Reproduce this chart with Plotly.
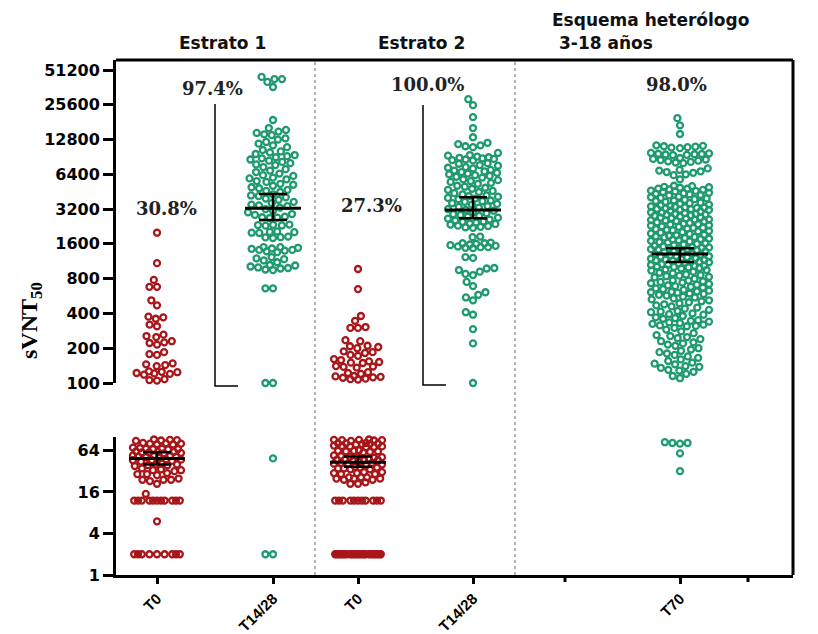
import numpy as np
import plotly.graph_objects as go

# ---------------- data ----------------
categories = ["T0", "T14/28", "T0", "T14/28", "T70"]
blank_ticks = [449, 632]  # tick marks without labels

e1_t0 = [2000, 1090, 780, 680, 680, 520, 470, 370, 360, 375, 310, 320, 255, 262, 250,
         222, 215, 225, 230, 185, 175, 178, 145, 140, 143, 148, 122, 120, 125, 118, 124,
         121, 126, 106, 105, 108,
         90, 88, 92, 89, 91, 80, 79, 81, 82, 78, 80, 68, 67, 69, 70, 66, 68, 67,
         60, 61, 59, 62, 58, 60, 61, 52, 53, 51, 54, 52, 50, 53, 46, 45, 47, 46, 44, 47,
         39, 40, 38, 41, 39, 40, 33, 34, 32, 33, 35, 29, 28, 30, 29, 24, 25, 24, 23, 24,
         21, 15, 12, 12, 12, 12, 12, 12, 12, 12, 12, 12, 12, 6,
         2, 2, 2, 2, 2, 2, 2, 2, 2]

e1_t14 = [44600, 42700, 42700, 40400, 36500, 18900,
          16100, 15500, 15000, 14600, 14200, 14000,
          13100, 12800, 12200, 11800, 11400, 11000,
          10400, 10100, 9900, 9600, 9400, 9200, 9000,
          8800, 8600, 8400, 8200, 8000, 7800, 7700,
          7400, 7100, 6900, 6700, 6500, 6300,
          6200, 6000, 5900, 5800, 5600, 5500, 5300, 5200,
          5100, 4950, 4850, 4700, 4600, 4500, 4300, 4200,
          4150, 4050, 3950, 3850, 3700, 3600, 3500, 3450,
          3400, 3300, 3200, 3100, 3000, 2900, 2850,
          2750, 2700, 2720, 2680,
          2350, 2300, 2330, 2310, 2340,
          2020, 2050, 2000, 2030, 1990,
          1830, 1850, 1800, 1820,
          1500, 1480, 1450, 1420, 1400, 1380, 1360, 1420, 1460, 1500,
          1230, 1200, 1150, 1110, 1180,
          1050, 1020, 1000, 980, 960, 950, 990, 1040,
          660, 660, 100, 100,
          49, 2, 2]

e2_t0 = [970, 650, 380, 345, 300, 300, 305, 230, 235, 210, 205, 200, 208, 185, 188, 182,
         175, 172, 161, 158, 152, 150, 154, 149, 138, 140, 136, 139, 122, 124, 120,
         113, 112, 115, 114, 111, 108, 107, 109,
         90, 91, 89, 92, 90, 88, 91, 80, 81, 79, 82, 80, 78, 81, 73, 72, 74, 73, 71, 75,
         62, 63, 61, 64, 62, 60, 63, 52, 53, 51, 54, 52, 50, 46, 47, 45, 46, 48, 44, 47,
         41, 40, 42, 41, 39, 42, 35, 36, 34, 35, 37, 34, 36, 30, 31, 29, 30, 31, 29,
         25, 26, 24, 25, 26, 24, 25, 26, 21, 22, 21,
         12, 12, 12, 12, 12, 12, 12, 12, 12, 12, 12,
         2, 2, 2, 2, 2, 2, 2, 2, 2, 2, 2, 2, 2, 2, 2, 2, 2, 2, 2, 2, 2, 2, 2]

e2_t14 = [28600, 25400, 20000, 16100, 13400,
          12000, 11700, 11400, 11200, 11000, 9800,
          9400, 9300, 9100, 9000, 8900, 8800, 8700, 8600, 8500, 8450,
          8000, 7900, 7700, 7600, 7400, 7300, 7200, 7000, 6900, 6800, 6700, 6600,
          6500, 6400, 6300, 6200, 6100, 6000, 5800, 5700, 5600, 5500, 5400, 5300, 5100, 5000,
          4900, 4800, 4700, 4600, 4500, 4400, 4300, 4200, 4150, 4100, 4000, 3950, 3900, 3800,
          3750, 3700, 3600, 3550, 3500, 3400, 3350, 3300, 3200, 3150, 3100, 3000,
          2950, 2900, 2850, 2800, 2750, 2700, 2650, 2600, 2550, 2500, 2480, 2450, 2400,
          2380, 2350, 2300, 2280, 2250, 2230, 2200,
          1830, 1850,
          1640, 1620, 1600, 1560, 1520, 1500, 1480, 1470, 1500, 1540, 1580, 1620,
          1210, 1230, 990, 980, 950, 920, 880, 860, 750, 690, 610, 580, 550, 520,
          410, 390, 293, 220, 100]

t70 = [19600, 17000, 14300,
       11400, 11200, 11000, 10800, 11300, 11100, 10900,
       9700, 9600, 9500, 9400, 9800, 9650, 9550, 9450,
       8860, 8700, 8600, 8500, 8400, 8300, 8200, 8100, 8000,
       7200, 7000, 6900, 6800, 6700, 6600, 6400, 6300, 5800,
       5100, 5050, 4980, 4950, 4900, 4820, 4800, 4750, 4700, 4620, 4600, 4550, 4500, 4430,
       4400, 4350, 4300, 4240, 4200, 4100,
       4050, 4000, 3960, 3900, 3850, 3800, 3760, 3700, 3640, 3600, 3550, 3500, 3450, 3400,
       3380, 3350, 3310, 3300, 3280, 3250, 3220, 3200, 3170, 3150,
       3100, 3050, 3000, 2980, 2950, 2910, 2900, 2870, 2850, 2820, 2800, 2760, 2720, 2700,
       2680, 2650, 2610, 2600, 2570, 2550, 2520, 2500, 2460, 2430,
       2400, 2370, 2350, 2320, 2300, 2270, 2250, 2210, 2200, 2170, 2150, 2120, 2100, 2070,
       2050, 2020, 2000, 1970, 1950, 1920, 1900, 1880, 1860, 1840,
       1820, 1800, 1780, 1760, 1740, 1720, 1700, 1680, 1660, 1640, 1620, 1600, 1580, 1560,
       1540, 1520, 1500, 1490, 1480, 1470, 1460, 1450, 1440, 1430,
       1410, 1400, 1380, 1360, 1340, 1320, 1300, 1290, 1280, 1260, 1250, 1240, 1220, 1200,
       1190, 1180, 1170, 1160, 1150, 1140, 1130, 1120, 1110, 1100,
       1080, 1070, 1060, 1050, 1040, 1030, 1020, 1010, 1000, 990, 980, 960, 950, 940,
       920, 900, 890, 870, 860, 850, 840, 830, 820, 800,
       775, 770, 760, 750, 740, 730, 720, 710, 700, 690, 680, 670, 660, 650,
       640, 630, 620, 615, 610, 605,
       595, 590, 580, 570, 560, 550, 540, 530, 520, 510, 500, 490, 480, 470,
       460, 450, 440, 430, 420, 415, 410, 400,
       395, 390, 380, 370, 365, 360, 350, 345, 340, 335, 330, 325, 320, 315, 312, 310,
       300, 290, 280, 270, 260, 255, 250, 245, 240, 230, 225, 220, 215, 210,
       200, 195, 190, 185, 180, 175, 170, 165, 160, 155,
       150, 147, 145, 140, 138, 135, 130, 128, 125, 120, 115, 110,
       82, 80, 82, 84, 58, 32]

gmean = [49, 3250, 43, 3150, 1310]
ci_lo = [40, 2570, 37, 2670, 1115]
ci_hi = [60, 4320, 52, 4060, 1470]

pct_labels = ["30.8%", "97.4%", "27.3%", "100.0%", "98.0%"]

upper_ticks = [100, 200, 400, 800, 1600, 3200, 6400, 12800, 25600, 51200]
lower_ticks = [1, 4, 16, 64]

# ---------------- layout geometry ----------------
OFF = 8                       # page body margin in the browser
W_PX, H_PX = 818 - OFF, 634 - OFF
ML, MR, MT, MB = 116 - OFF, 25, 60 - OFF, 59
PW = W_PX - ML - MR
PH = H_PX - MT - MB
BOT = 575                      # screen y of the bottom axis
up_dom = [(BOT - 383) / PH, 1.0]
lo_dom = [0.0, (BOT - 437) / PH]
up_rng = [2.0, np.log10(62500)]
lo_rng = [0.0, 2.0]
up_ppd = (up_dom[1] - up_dom[0]) * PH / (up_rng[1] - up_rng[0])
lo_ppd = (lo_dom[1] - lo_dom[0]) * PH / (lo_rng[1] - lo_rng[0])

group_pos = [41, 157, 242, 357, 564]
RED = "#A8161A"
GREEN = "#1E9A6C"


def px_y(v):
    v = np.asarray(v, float)
    return np.where(v >= 100, np.log10(v) * up_ppd, np.log10(v) * lo_ppd + 10000)


def swarm(values, d=7.6, W=24.0):
    ys = px_y(values)
    order = np.argsort(ys, kind="stable")
    xs = np.zeros(len(ys))
    placed = []
    grid = sorted(np.linspace(-W, W, 49), key=lambda c: (abs(c), c))
    for i in order:
        y = ys[i]
        neigh = [(px, py) for px, py in placed if abs(py - y) < d]
        cands = [0.0]
        for px, py in neigh:
            dx = np.sqrt(max(d * d - (py - y) ** 2, 0.0))
            cands += [px + dx, px - dx]
        cands = sorted(cands, key=lambda c: (abs(c), c))
        chosen = None
        for c in cands:
            if abs(c) > W + 1e-9:
                continue
            if all((c - px) ** 2 + (y - py) ** 2 >= d * d - 1e-6 for px, py in neigh):
                chosen = c
                break
        if chosen is None:
            bestd = -1
            for c in grid:
                md = min((c - px) ** 2 + (y - py) ** 2 for px, py in neigh)
                if md > bestd + 1e-6:
                    bestd = md
                    chosen = c
        xs[i] = chosen
        placed.append((chosen, y))
    return xs


groups = [(e1_t0, RED, 24), (e1_t14, GREEN, 25), (e2_t0, RED, 24),
          (e2_t14, GREEN, 25), (t70, GREEN, 29)]

fig = go.Figure()
for (vals, col, w), pos in zip(groups, group_pos):
    v = np.asarray(vals, float)
    off = swarm(v, W=w)
    for mask, ya in [(v >= 100, "y"), (v < 100, "y2")]:
        if mask.sum() == 0:
            continue
        fig.add_trace(go.Scatter(
            x=pos + off[mask], y=v[mask], mode="markers", xaxis="x", yaxis=ya,
            marker=dict(symbol="circle-open", size=6, color=col, line=dict(width=2.3, color=col)),
            cliponaxis=False, showlegend=False, hoverinfo="y"))

for k, pos in enumerate(group_pos):
    ya = "y" if gmean[k] >= 100 else "y2"
    fig.add_trace(go.Scatter(
        x=[pos], y=[gmean[k]], mode="markers", xaxis="x", yaxis=ya,
        marker=dict(symbol="line-ew", size=40, line=dict(width=3, color="black")),
        error_y=dict(type="data", symmetric=False, array=[ci_hi[k] - gmean[k]],
                     arrayminus=[gmean[k] - ci_lo[k]], width=14, thickness=2.5, color="black"),
        cliponaxis=False, showlegend=False, hoverinfo="skip"))

tickf = dict(family="DejaVu Sans", size=16, color="black", weight="bold")
axis_common = dict(showline=True, linewidth=3, linecolor="black", ticks="outside",
                   tickwidth=3, tickcolor="black", showgrid=False, zeroline=False,
                   automargin=False)

fig.update_layout(
    width=W_PX, height=H_PX, margin=dict(l=ML, r=MR, t=MT, b=MB, autoexpand=False),
    paper_bgcolor="white", plot_bgcolor="white", showlegend=False,
    xaxis=dict(range=[0, PW], domain=[0, 1], anchor="y2", tickvals=group_pos,
               ticktext=categories, tickangle=-45, ticklen=6,
               tickfont=dict(family="Liberation Sans", size=15, color="black", weight="bold"),
               **axis_common),
    yaxis=dict(type="log", range=up_rng, domain=up_dom, anchor="x", tickvals=upper_ticks,
               ticktext=[str(t) for t in upper_ticks], ticklen=10, tickfont=tickf,
               **axis_common),
    yaxis2=dict(type="log", range=lo_rng, domain=lo_dom, anchor="x", tickvals=lower_ticks,
                ticktext=[str(t) for t in lower_ticks], ticklen=10, tickfont=tickf,
                **axis_common),
)


def py(p):
    return (BOT - p) / PH


def pxp(p):
    return (p - 116) / PW


shapes = [
    dict(type="line", xref="paper", yref="paper", x0=0, x1=1, y0=1, y1=1,
         line=dict(color="black", width=3)),
    dict(type="line", xref="paper", yref="paper", x0=1, x1=1, y0=0, y1=1,
         line=dict(color="black", width=3)),
    dict(type="line", xref="x", yref="paper", x0=199, x1=199, y0=0, y1=1,
         line=dict(color="#9a9a9a", width=1.5, dash="dot")),
    dict(type="line", xref="x", yref="paper", x0=399, x1=399, y0=0, y1=1,
         line=dict(color="#9a9a9a", width=1.5, dash="dot")),
    dict(type="path", xref="x", yref="paper",
         path=f"M 99 {py(104)} L 99 {py(386)} L 122 {py(386)}",
         line=dict(color="black", width=1.5)),
    dict(type="path", xref="x", yref="paper",
         path=f"M 307 {py(105)} L 307 {py(385)} L 330 {py(385)}",
         line=dict(color="black", width=1.5)),
]
for bt in blank_ticks:
    shapes.append(dict(type="line", xref="x", yref="paper", x0=bt, x1=bt, y0=0,
                       y1=-7 / PH, line=dict(color="black", width=3)))
fig.update_layout(shapes=shapes)

pctf = dict(family="DejaVu Serif", size=18, color="#222222", weight="bold")
pct_xy = [(50, 208), (96, 88), (255, 205), (311, 84), (560, 84)]
ann = []
for lab, (x, y) in zip(pct_labels, pct_xy):
    ann.append(dict(x=x, y=py(y), xref="x", yref="paper", text=lab, showarrow=False,
                    font=pctf, xanchor="center", yanchor="middle"))

titf = dict(family="DejaVu Sans", size=17, color="#111111", weight="bold")
ann += [
    dict(x=pxp(222), y=py(43), xref="paper", yref="paper", text="Estrato 1",
         showarrow=False, font=titf, xanchor="center", yanchor="middle"),
    dict(x=pxp(421), y=py(43), xref="paper", yref="paper", text="Estrato 2",
         showarrow=False, font=titf, xanchor="center", yanchor="middle"),
    dict(x=pxp(550), y=py(20), xref="paper", yref="paper", text="Esquema heterólogo",
         showarrow=False, font=titf, xanchor="left", yanchor="middle"),
    dict(x=pxp(557), y=py(43), xref="paper", yref="paper", text="3-18 años",
         showarrow=False, font=titf, xanchor="left", yanchor="middle"),
    dict(x=pxp(31), y=py(320), xref="paper", yref="paper", text="sVNT<sub>50</sub>",
         showarrow=False, textangle=-90,
         font=dict(family="Liberation Serif", size=24, color="black", weight="bold"),
         xanchor="center", yanchor="middle"),
]
fig.update_layout(annotations=ann)

fig.write_html("out.html")
